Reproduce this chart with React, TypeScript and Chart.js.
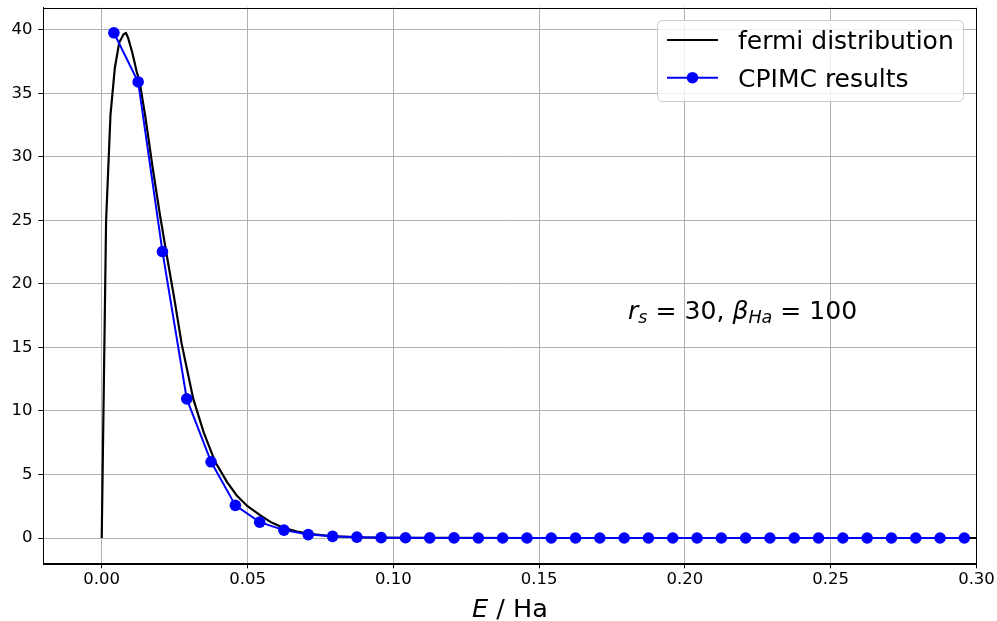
import React, { useEffect, useRef } from "react";
import { Chart, registerables } from "chart.js";

Chart.register(...registerables);

// ---- data ----
const fermiE = [
  0, 0.0015, 0.003, 0.0045, 0.006, 0.0075, 0.0083, 0.009, 0.0105, 0.012, 0.013,
  0.015, 0.0175, 0.02, 0.0222, 0.025, 0.0274, 0.0314, 0.035, 0.0389,
  0.043, 0.0463, 0.05, 0.0543, 0.058, 0.0623, 0.067, 0.0714, 0.079, 0.09, 0.1,
  0.12, 0.15, 0.2, 0.25, 0.3,
];
const fermiN = [
  0, 25.0, 33.3, 37.0, 39.0, 39.65, 39.75, 39.4, 38.2, 36.7, 35.9,
  33.1, 29.1, 25.4, 22.4, 18.7, 15.3, 10.95, 8.3, 6.0,
  4.4, 3.35, 2.5, 1.8, 1.25, 0.8, 0.5, 0.33, 0.14, 0.05, 0.02,
  0.005, 0, 0, 0, 0,
];

const cpimcE = [
  0.00417, 0.0125, 0.02083, 0.02917, 0.0375, 0.04583, 0.05417, 0.0625, 0.07083,
  0.07917, 0.0875, 0.09583, 0.10417, 0.1125, 0.12083, 0.12917, 0.1375, 0.14583,
  0.15417, 0.1625, 0.17083, 0.17917, 0.1875, 0.19583, 0.20417, 0.2125, 0.22083,
  0.22917, 0.2375, 0.24583, 0.25417, 0.2625, 0.27083, 0.27917, 0.2875, 0.29583,
];
const cpimcN = [
  39.77, 35.9, 22.55, 10.95, 6.0, 2.57, 1.25, 0.62, 0.27,
  0.13, 0.07, 0.03, 0.02, 0.01, 0.01, 0, 0, 0,
  0, 0, 0, 0, 0, 0, 0, 0, 0,
  0, 0, 0, 0, 0, 0, 0, 0, 0,
];

const xTicks = [0, 0.05, 0.1, 0.15, 0.2, 0.25, 0.3];
const yTicks = [0, 5, 10, 15, 20, 25, 30, 35, 40];
const seriesLabels = ["fermi distribution", "CPIMC results"];

const X_MIN = -0.02;
const X_MAX = 0.3;
const Y_MIN = -1.99;
const Y_MAX = 41.76;

const ANN_X = 0.1805;
const ANN_Y = 17.25;

const FONT = "'DejaVu Sans', sans-serif";
const BLUE = "#0000ff";

type Part = { t: string; it?: boolean; sub?: boolean };

function drawRich(ctx: CanvasRenderingContext2D, parts: Part[], x: number, y: number, size: number, align: "left" | "center") {
  const fontFor = (p: Part) => `${p.it ? "italic " : ""}${p.sub ? size * 0.7 : size}px ${FONT}`;
  let total = 0;
  for (const p of parts) {
    ctx.font = fontFor(p);
    total += ctx.measureText(p.t).width;
  }
  let cx = align === "center" ? x - total / 2 : x;
  ctx.textBaseline = "alphabetic";
  ctx.textAlign = "left";
  for (const p of parts) {
    ctx.font = fontFor(p);
    ctx.fillText(p.t, cx, y + (p.sub ? size * 0.18 : 0));
    cx += ctx.measureText(p.t).width;
  }
}

const decorPlugin = {
  id: "decor",
  afterDatasetsDraw(chart: any) {
    const { ctx, chartArea: a } = chart;
    ctx.save();
    ctx.strokeStyle = "#000";
    ctx.lineWidth = 1;
    ctx.strokeRect(Math.round(a.left) + 0.5, Math.round(a.top) + 0.5, Math.round(a.right - a.left), Math.round(a.bottom - a.top));
    ctx.restore();
  },
  afterDraw(chart: any) {
    const { ctx, chartArea: a, scales } = chart;
    ctx.save();
    ctx.fillStyle = "#000";
    const ax = scales.x.getPixelForValue(ANN_X);
    const ay = scales.y.getPixelForValue(ANN_Y);
    drawRich(
      ctx,
      [
        { t: "r", it: true },
        { t: "s", it: true, sub: true },
        { t: " = 30, " },
        { t: "β", it: true },
        { t: "Ha", it: true, sub: true },
        { t: " = 100" },
      ],
      ax,
      ay,
      25.1,
      "left"
    );
    drawRich(ctx, [{ t: "E", it: true }, { t: " / Ha" }], (a.left + a.right) / 2, 616.5, 25.5, "center");

    // legend
    const lx = a.right - 319.5;
    const ly = a.top + 12.5;
    const lw = 306;
    const lh = 81;
    ctx.beginPath();
    ctx.roundRect(lx + 0.5, ly + 0.5, lw, lh, 5);
    ctx.fillStyle = "rgba(255,255,255,0.8)";
    ctx.fill();
    ctx.strokeStyle = "#cccccc";
    ctx.lineWidth = 1;
    ctx.stroke();

    const colors = ["#000000", BLUE];
    const rowY = [ly + 20, ly + 57.7];
    for (let i = 0; i < 2; i++) {
      ctx.strokeStyle = colors[i];
      ctx.lineWidth = 2;
      ctx.beginPath();
      ctx.moveTo(lx + 10, rowY[i]);
      ctx.lineTo(lx + 61, rowY[i]);
      ctx.stroke();
      if (i === 1) {
        ctx.fillStyle = BLUE;
        ctx.beginPath();
        ctx.arc(lx + 35.5, rowY[i], 5.8, 0, Math.PI * 2);
        ctx.fill();
      }
      ctx.fillStyle = "#000";
      ctx.font = `25px ${FONT}`;
      ctx.textBaseline = "alphabetic";
      ctx.textAlign = "left";
      ctx.fillText(seriesLabels[i], lx + 81, rowY[i] + 9.2);
    }
    ctx.restore();
  },
};

export default function App() {
  const ref = useRef<HTMLCanvasElement | null>(null);

  useEffect(() => {
    document.body.style.margin = "0";
    const canvas = ref.current!;
    const chart = new Chart(canvas, {
      type: "line",
      data: {
        datasets: [
          {
            label: seriesLabels[0],
            data: fermiE.map((x, i) => ({ x, y: fermiN[i] })),
            borderColor: "#000000",
            borderWidth: 2.2,
            pointRadius: 0,
            pointHoverRadius: 0,
            tension: 0,
            fill: false,
            order: 1,
          },
          {
            label: seriesLabels[1],
            data: cpimcE.map((x, i) => ({ x, y: cpimcN[i] })),
            borderColor: BLUE,
            backgroundColor: BLUE,
            borderWidth: 2,
            pointRadius: 5.8,
            pointBackgroundColor: BLUE,
            pointBorderWidth: 0,
            tension: 0,
            fill: false,
            order: 0,
          },
        ],
      },
      options: {
        animation: false,
        responsive: false,
        devicePixelRatio: 1,
        events: [],
        layout: { padding: { left: 0, right: 20.5, top: 7.5, bottom: 0 } },
        plugins: {
          legend: { display: false },
          tooltip: { enabled: false },
        },
        scales: {
          x: {
            type: "linear",
            min: X_MIN,
            max: X_MAX,
            afterBuildTicks: (s: any) => {
              s.ticks = xTicks.map((v) => ({ value: v }));
            },
            afterFit: (s: any) => {
              s.height = 57.7;
              s.paddingLeft = 0;
              s.paddingRight = 0;
              s.paddingTop = 0;
              s.paddingBottom = 0;
            },
            ticks: {
              callback: (v: any) => Number(v).toFixed(2),
              font: { family: FONT, size: 16.5 },
              color: "#000",
              padding: 2,
              maxRotation: 0,
              autoSkip: false,
            },
            grid: {
              color: "#b0b0b0",
              lineWidth: 1,
              drawTicks: true,
              tickLength: 5,
              tickColor: "#000",
              tickWidth: 1,
            },
            border: { display: true, color: "#000", width: 1 },
          },
          y: {
            type: "linear",
            min: Y_MIN,
            max: Y_MAX,
            afterBuildTicks: (s: any) => {
              s.ticks = yTicks.map((v) => ({ value: v }));
            },
            afterFit: (s: any) => {
              s.width = 43.4;
              s.paddingLeft = 0;
              s.paddingRight = 0;
              s.paddingTop = 0;
              s.paddingBottom = 0;
            },
            ticks: {
              callback: (v: any) => String(v),
              font: { family: FONT, size: 16.5 },
              color: "#000",
              padding: 6,
              autoSkip: false,
            },
            grid: {
              color: "#b0b0b0",
              lineWidth: 1,
              drawTicks: true,
              tickLength: 5,
              tickColor: "#000",
              tickWidth: 1,
            },
            border: { display: true, color: "#000", width: 1 },
          },
        },
      },
      plugins: [decorPlugin],
    });
    return () => chart.destroy();
  }, []);

  return (
    <div style={{ position: "absolute", left: 0, top: 0, width: 997, height: 621, background: "#fff" }}>
      <canvas ref={ref} width={997} height={621} style={{ display: "block" }} />
    </div>
  );
}
